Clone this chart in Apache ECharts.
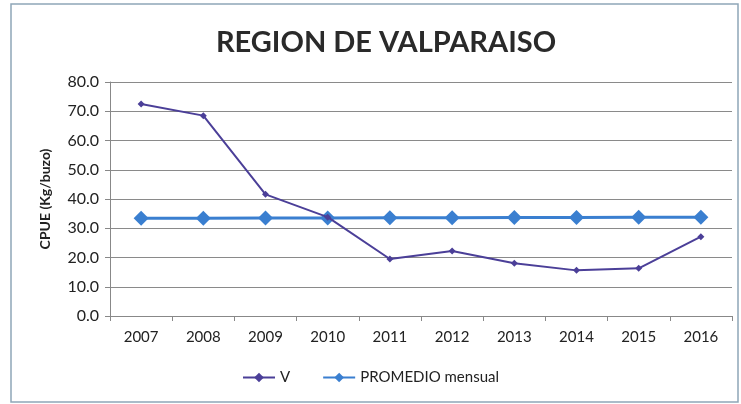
<!DOCTYPE html>
<html>
<head>
<meta charset="utf-8">
<script src="https://cdn.jsdelivr.net/npm/echarts@6/dist/echarts.min.js"></script>
<style>
html, body { margin: 0; padding: 0; background: #fff; }
#main { width: 741px; height: 404px; }
</style>
</head>
<body>
<div id="main"></div>
<script>
// datos
var years = ['2007', '2008', '2009', '2010', '2011', '2012', '2013', '2014', '2015', '2016'];
var valoresV = [72.5, 68.5, 41.6, 33.8, 19.5, 22.2, 18.0, 15.6, 16.3, 27.1];
var promedio = [33.4, 33.4, 33.5, 33.5, 33.6, 33.6, 33.7, 33.7, 33.8, 33.8];

var chart = echarts.init(document.getElementById('main'));
var option = {
    backgroundColor: '#fff',
    textStyle: { fontFamily: 'Lato' },
    title: {
        text: 'REGION DE VALPARAISO',
        left: 381, top: 23, textAlign: 'center',
        textStyle: { fontSize: 29, fontWeight: 'bold', color: '#2a2a2a', fontFamily: 'Lato' }
    },
    graphic: [{
        type: 'rect',
        shape: { x: 11, y: 4, width: 727, height: 398 },
        style: { fill: 'none', stroke: '#8fa6b8', lineWidth: 1.5 },
        silent: true
    }],
    legend: {
        bottom: 14, left: 'center', itemGap: 32, itemWidth: 32, itemHeight: 12,
        textStyle: { fontSize: 15, color: '#222' },
        data: ['V', 'PROMEDIO mensual']
    },
    grid: { left: 110, right: 9, top: 82, bottom: 88 },
    xAxis: {
        type: 'category',
        data: years,
        boundaryGap: true,
        axisLine: { lineStyle: { color: '#888' } },
        axisTick: { show: true, inside: false, length: 5, lineStyle: { color: '#888' } },
        axisLabel: { fontSize: 15, color: '#222', margin: 14 }
    },
    yAxis: {
        type: 'value',
        min: 0, max: 80, interval: 10,
        name: 'CPUE (Kg/buzo)',
        nameLocation: 'middle',
        nameGap: 58,
        nameTextStyle: { fontSize: 14, fontWeight: 'bold', color: '#222' },
        axisLine: { show: true, lineStyle: { color: '#888' } },
        axisTick: { show: true, length: 5, lineStyle: { color: '#888' } },
        axisLabel: { fontSize: 16, color: '#222', margin: 11,
            formatter: function (v) { return v.toFixed(1); } },
        splitLine: { lineStyle: { color: '#8a8a8a', width: 1 } }
    },
    series: [
        {
            name: 'V', type: 'line', data: valoresV,
            symbol: 'diamond', symbolSize: 7,
            lineStyle: { color: '#4b3f98', width: 2 },
            itemStyle: { color: '#4b3f98' },
            z: 3
        },
        {
            name: 'PROMEDIO mensual', type: 'line', data: promedio,
            symbol: 'diamond', symbolSize: 15,
            lineStyle: { color: '#3a7fd0', width: 3 },
            itemStyle: { color: '#3a7fd0' },
            z: 2
        }
    ]
};
chart.setOption(option);
</script>
</body>
</html>
